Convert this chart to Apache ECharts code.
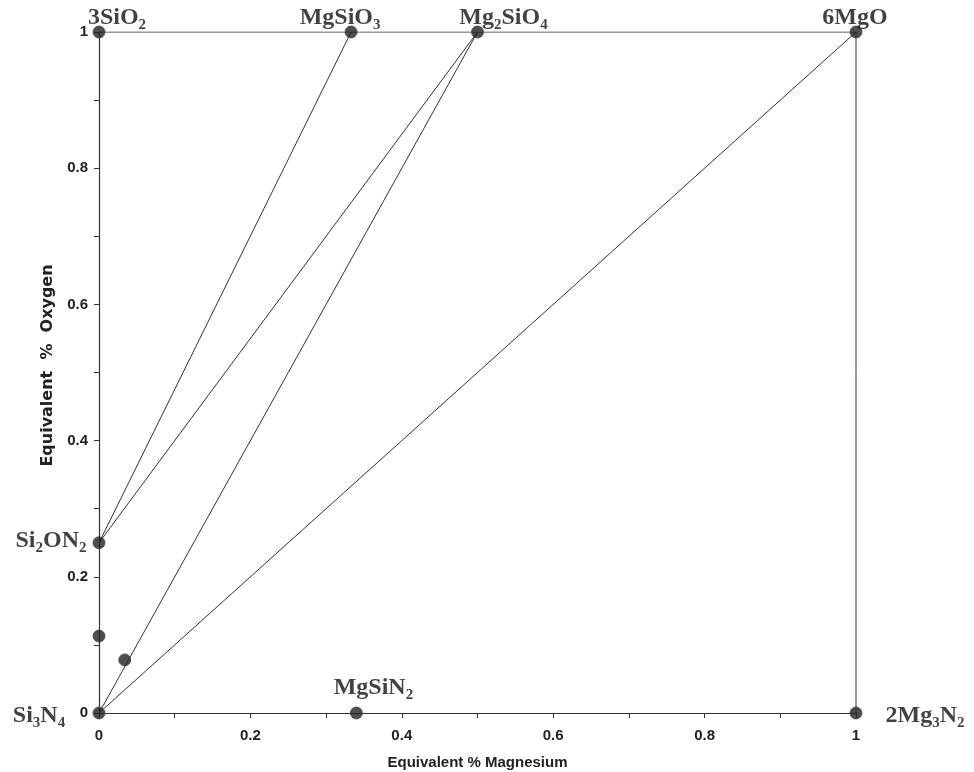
<!DOCTYPE html>
<html><head><meta charset="utf-8">
<script src="https://cdn.jsdelivr.net/npm/echarts@6/dist/echarts.min.js"></script>
<style>html,body{margin:0;padding:0;background:#fff}#c{width:974px;height:772px}</style>
</head><body><div id="c"></div>
<script>
// ---- data ----
const phaseNames = ['3SiO2', 'MgSiO3', 'Mg2SiO4', '6MgO', 'Si2ON2', 'Si3N4', 'MgSiN2', '2Mg3N2'];
const phaseMg = [0, 0.333, 0.5, 1, 0, 0, 0.34, 1];
const phaseO = [1, 1, 1, 1, 0.25, 0, 0, 0];
const extraMg = [0, 0.034];
const extraO = [0.113, 0.078];
const tieFrom = ['3SiO2', '6MgO', 'Si2ON2', 'Si2ON2', 'Si3N4', 'Si3N4'];
const tieTo = ['6MgO', '2Mg3N2', 'MgSiO3', 'Mg2SiO4', 'Mg2SiO4', '6MgO'];
const xTickLabels = ['0', '0.2', '0.4', '0.6', '0.8', '1'];
const yTickLabels = ['0', '0.2', '0.4', '0.6', '0.8', '1'];
const xAxisName = 'Equivalent % Magnesium';
const yAxisName = 'Equivalent  %  Oxygen';

// ---- presentation ----
const labelOffsets = {
  '3SiO2': [18, -14], 'MgSiO3': [-11, -14], 'Mg2SiO4': [26, -14], '6MgO': [-1, -14],
  'Si2ON2': [-48, -2], 'Si3N4': [-60, 3], 'MgSiN2': [17, -25], '2Mg3N2': [69, 3]
};
const ink = '#222';
const serif = "'Liberation Serif', 'DejaVu Serif', serif";
const sans = "'Liberation Sans', sans-serif";

function tickFmt(labels) {
  return function (v) {
    const k = Math.round(v * 10);
    return k % 2 === 0 ? labels[k / 2] : '';
  };
}
function pos(name) {
  const i = phaseNames.indexOf(name);
  return [phaseMg[i], phaseO[i]];
}

const series = [];
tieFrom.forEach((f, i) => {
  series.push({
    type: 'line', data: [pos(f), pos(tieTo[i])], symbol: 'none', silent: true, z: 2,
    lineStyle: { color: '#333', width: 1 }
  });
});
series.push({
  type: 'scatter', z: 5, symbol: 'circle', symbolSize: 12,
  itemStyle: { color: ink, borderColor: '#444', borderWidth: 1 },
  data: phaseNames.map((n, i) => ({
    name: n, value: [phaseMg[i], phaseO[i]],
    label: {
      show: true, position: 'inside', offset: labelOffsets[n],
      align: 'center', verticalAlign: 'middle',
      formatter: function (p) { return p.name.replace(/([A-Za-z])(\d+)/g, '$1{s|$2}'); },
      fontFamily: serif, fontSize: 24, fontWeight: 'bold', color: '#111',
      rich: { s: { fontFamily: serif, fontSize: 15, fontWeight: 'bold', color: '#111', padding: [15, 0, 0, 0] } }
    }
  }))
});
series.push({
  type: 'scatter', z: 5, symbol: 'circle', symbolSize: 12,
  itemStyle: { color: ink, borderColor: '#444', borderWidth: 1 },
  data: extraMg.map((x, i) => [x, extraO[i]])
});

const chart = echarts.init(document.getElementById('c'), null, { renderer: 'canvas' });
chart.setOption({
  backgroundColor: '#ffffff',
  animation: false,
  grid: { left: 99, right: 118, top: 32, bottom: 59, containLabel: false, outerBoundsMode: 'none' },
  xAxis: {
    type: 'value', min: 0, max: 1, interval: 0.1,
    name: xAxisName, nameLocation: 'middle', nameGap: 42,
    nameTextStyle: { fontFamily: sans, fontSize: 15, fontWeight: 'bold', color: '#222' },
    axisLine: { show: true, lineStyle: { color: '#333', width: 1.2 } },
    axisTick: { show: true, inside: false, length: 5, lineStyle: { color: '#333' } },
    axisLabel: { formatter: tickFmt(xTickLabels), margin: 15, fontFamily: sans, fontSize: 15, fontWeight: 'bold', color: '#222' },
    splitLine: { show: false }
  },
  yAxis: {
    type: 'value', min: 0, max: 1, interval: 0.1,
    name: yAxisName, nameLocation: 'middle', nameGap: 39,
    nameTextStyle: { fontFamily: "'DejaVu Sans', sans-serif", fontSize: 16, fontWeight: 'bold', color: '#222', padding: [0, 0, 0, 14] },
    axisLine: { show: true, lineStyle: { color: '#333', width: 1.2 } },
    axisTick: { show: true, inside: false, length: 5, lineStyle: { color: '#333' } },
    axisLabel: { formatter: tickFmt(yTickLabels), margin: 11, fontFamily: sans, fontSize: 15, fontWeight: 'bold', color: '#222' },
    splitLine: { show: false }
  },
  series: series
});
</script>
</body></html>
